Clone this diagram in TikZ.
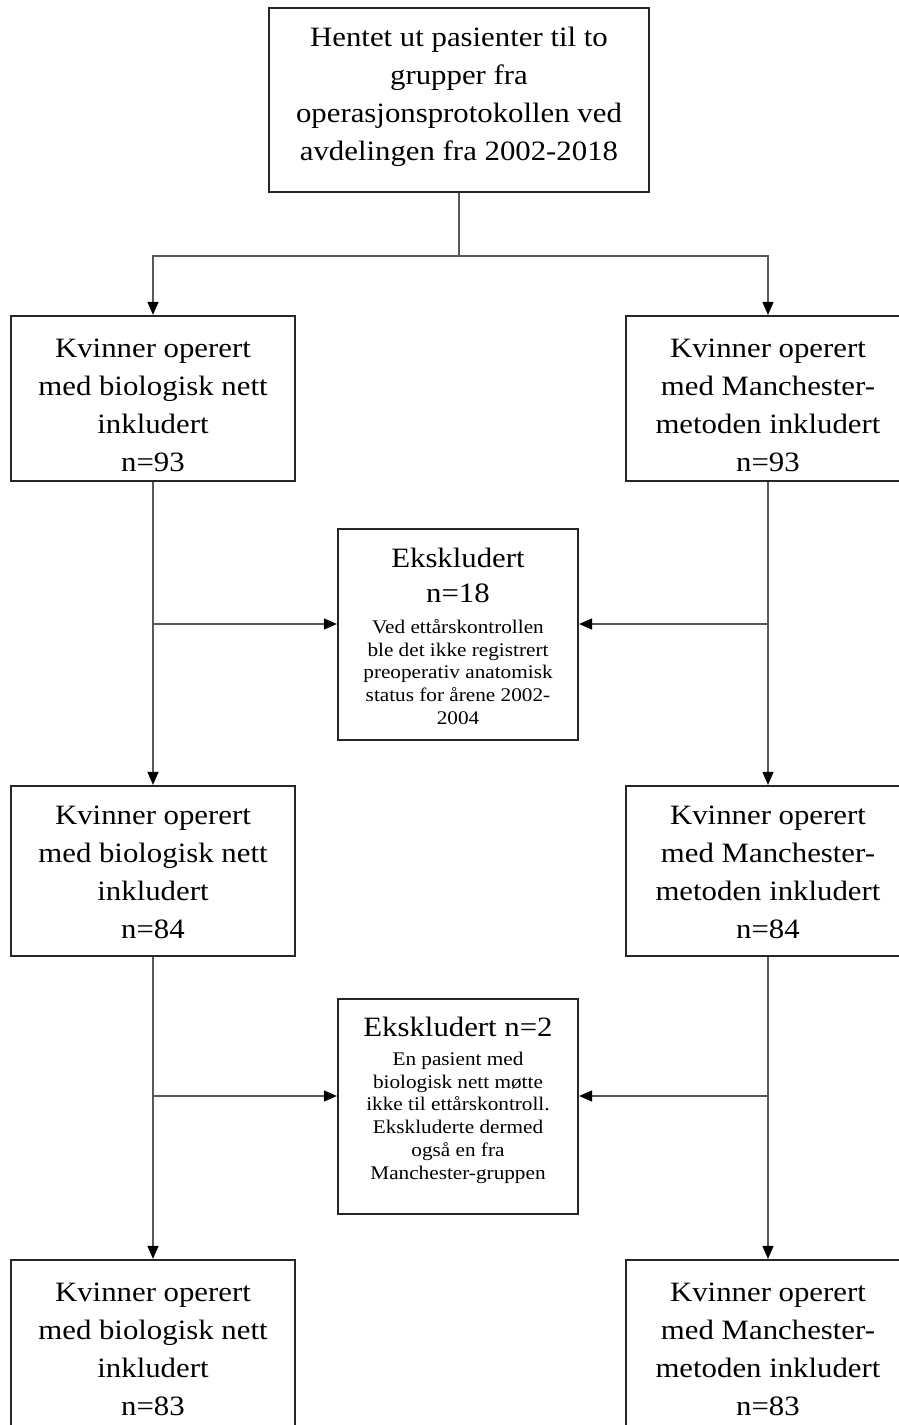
\documentclass[tikz,border=0pt]{standalone}
\usepackage{fontspec}
\setmainfont[FakeStretch=1.1]{Liberation Serif}
\usetikzlibrary{arrows.meta,positioning}
\tikzset{
  box/.style={draw=black!85, line width=2.2pt, inner sep=0pt},
  sidebox/.style={box, minimum width=284pt},
  exclbox/.style={box, minimum width=240pt},
  bigtext/.style={align=center, inner sep=0pt, font=\fontsize{28}{38}\selectfont},
  headtext/.style={align=center, inner sep=0pt, font=\fontsize{28}{35}\selectfont},
  smalltext/.style={align=center, inner sep=0pt, font=\fontsize{19.3}{22.7}\selectfont},
  line/.style={draw=black!65, line width=1.3pt},
  arrow/.style={line, -{Triangle[length=13pt, width=11pt, black]}}
}

\begin{document}
\begin{tikzpicture}[x=1pt, y=-1pt]
  \useasboundingbox (0,0) rectangle (898,1425);

  % source box
  \node[box, minimum width=380pt, minimum height=184pt] (src) at (459,100) {};
  \node[bigtext, below=20pt of src.north] (srctxt) {Hentet ut pasienter til to\\grupper fra\\operasjonsprotokollen ved\\avdelingen fra 2002-2018};

  % first row
  \node[sidebox, minimum height=165pt] (bio1) at (153,398.5) {};
  \node[sidebox, minimum height=165pt] (man1) at (768,398.5) {};
  \node[bigtext, below=24pt of bio1.north] (bio1txt) {Kvinner operert\\med biologisk nett\\inkludert\\n=93};
  \node[bigtext, below=24pt of man1.north] (man1txt) {Kvinner operert\\med Manchester-\\metoden inkludert\\n=93};

  % first exclusion
  \node[exclbox, minimum height=211pt] (excl1) at (458,634.5) {};
  \node[headtext, below=20pt of excl1.north] (excl1head) {Ekskludert\\n=18};
  \node[smalltext, below=91.5pt of excl1.north] (excl1txt) {Ved ettårskontrollen\\ble det ikke registrert\\preoperativ anatomisk\\status for årene 2002-\\2004};

  % second row
  \node[sidebox, minimum height=170pt] (bio2) at (153,871) {};
  \node[sidebox, minimum height=170pt] (man2) at (768,871) {};
  \node[bigtext, below=21pt of bio2.north] (bio2txt) {Kvinner operert\\med biologisk nett\\inkludert\\n=84};
  \node[bigtext, below=21pt of man2.north] (man2txt) {Kvinner operert\\med Manchester-\\metoden inkludert\\n=84};

  % second exclusion
  \node[exclbox, minimum height=215pt] (excl2) at (458,1106.5) {};
  \node[headtext, below=19pt of excl2.north] (excl2head) {Ekskludert n=2};
  \node[smalltext, below=54pt of excl2.north] (excl2txt) {En pasient med\\biologisk nett møtte\\ikke til ettårskontroll.\\Ekskluderte dermed\\også en fra\\Manchester-gruppen};

  % third row
  \node[sidebox, minimum height=175pt] (bio3) at (153,1347.5) {};
  \node[sidebox, minimum height=175pt] (man3) at (768,1347.5) {};
  \node[bigtext, below=24pt of bio3.north] (bio3txt) {Kvinner operert\\med biologisk nett\\inkludert\\n=83};
  \node[bigtext, below=24pt of man3.north] (man3txt) {Kvinner operert\\med Manchester-\\metoden inkludert\\n=83};

  % split below the source
  \coordinate (split) at ([yshift=-63pt]src.south);
  \draw[line] (src.south) -- (split);
  \draw[arrow] (split) -| (bio1.north);
  \draw[arrow] (split) -| (man1.north);

  % vertical flow
  \draw[arrow] (bio1.south) -- (bio2.north);
  \draw[arrow] (man1.south) -- (man2.north);
  \draw[arrow] (bio2.south) -- (bio3.north);
  \draw[arrow] (man2.south) -- (man3.north);

  % side arrows into the exclusion boxes
  \coordinate (in1l) at ([yshift=10.5pt]excl1.west);
  \coordinate (in1r) at ([yshift=10.5pt]excl1.east);
  \coordinate (in2l) at ([yshift=10.5pt]excl2.west);
  \coordinate (in2r) at ([yshift=10.5pt]excl2.east);
  \draw[arrow] (bio1.south |- in1l) -- (in1l);
  \draw[arrow] (man1.south |- in1r) -- (in1r);
  \draw[arrow] (bio2.south |- in2l) -- (in2l);
  \draw[arrow] (man2.south |- in2r) -- (in2r);
\end{tikzpicture}
\end{document}
